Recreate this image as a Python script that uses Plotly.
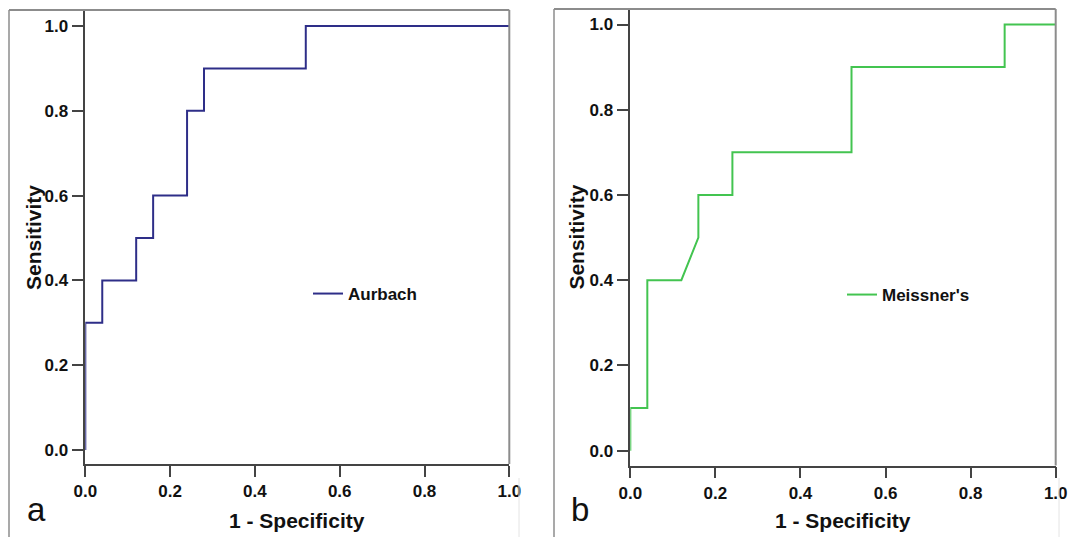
import plotly.graph_objects as go

# ROC coordinates
aurbach_fpr = [0.0, 0.0, 0.04, 0.04, 0.12, 0.12, 0.16, 0.16, 0.24, 0.24, 0.28, 0.28, 0.52, 0.52, 1.0]
aurbach_tpr = [0.0, 0.3, 0.3, 0.4, 0.4, 0.5, 0.5, 0.6, 0.6, 0.8, 0.8, 0.9, 0.9, 1.0, 1.0]

meissner_fpr = [0.0, 0.0, 0.04, 0.04, 0.12, 0.16, 0.16, 0.24, 0.24, 0.52, 0.52, 0.88, 0.88, 1.0]
meissner_tpr = [0.0, 0.1, 0.1, 0.4, 0.4, 0.5, 0.6, 0.6, 0.7, 0.7, 0.9, 0.9, 1.0, 1.0]

tick_vals = [0.0, 0.2, 0.4, 0.6, 0.8, 1.0]
tick_text = ["0.0", "0.2", "0.4", "0.6", "0.8", "1.0"]

W, H = 1070, 537
FONT = "Liberation Sans, Arial, Helvetica, sans-serif"
AX = "#444444"
FRAME = "#8c8c8c"


def px(x):
    return x / W


def py(y):
    return 1 - y / H


fig = go.Figure()
fig.add_trace(go.Scatter(x=aurbach_fpr, y=aurbach_tpr, mode="lines", name="Aurbach",
                         line=dict(color="#2e2e88", width=2), xaxis="x", yaxis="y",
                         legend="legend", showlegend=True))
fig.add_trace(go.Scatter(x=meissner_fpr, y=meissner_tpr, mode="lines", name="Meissner's",
                         line=dict(color="#43c450", width=2), xaxis="x2", yaxis="y2",
                         legend="legend2", showlegend=True))

tickfont = dict(family=FONT, size=17, color="#111111", weight="bold")

common_x = dict(range=[0, 1], tickvals=tick_vals, ticktext=tick_text, ticks="outside",
                ticklen=11, tickwidth=1.5, tickcolor=AX, showline=True, linecolor=AX,
                linewidth=1.5, showgrid=False, zeroline=False, tickfont=tickfont,
                fixedrange=True, automargin=False)
common_y = dict(tickvals=tick_vals, ticktext=tick_text, ticks="outside",
                ticklen=12, tickwidth=1.5, tickcolor=AX, showline=True, linecolor=AX,
                linewidth=1.5, showgrid=False, zeroline=False, tickfont=tickfont,
                fixedrange=True, automargin=False)

# left panel geometry (pixels)
L_x0, L_x1, L_top, L_bot = 85.3, 509.3, 10, 464
L_zero, L_one = 450, 26
# right panel geometry (pixels)
R_x0, R_x1, R_top, R_bot = 630.3, 1055.7, 9, 465.5
R_zero, R_one = 450.7, 24.5


def yrange(top, bot, zero, one):
    s = zero - one
    return [(zero - bot) / s, (zero - top) / s]


legfont = dict(family=FONT, size=17, color="#111111", weight="bold")
fig.update_layout(
    width=W, height=H, margin=dict(l=0, r=0, t=0, b=0, pad=0, autoexpand=False),
    paper_bgcolor="white", plot_bgcolor="white", showlegend=True,
    font=dict(family=FONT, color="#111111"),
    xaxis=dict(domain=[px(L_x0), px(L_x1)], anchor="y", **common_x),
    yaxis=dict(domain=[py(L_bot), py(L_top)], anchor="x",
               range=yrange(L_top, L_bot, L_zero, L_one), **common_y),
    xaxis2=dict(domain=[px(R_x0), px(R_x1)], anchor="y2", **common_x),
    yaxis2=dict(domain=[py(R_bot), py(R_top)], anchor="x2",
                range=yrange(R_top, R_bot, R_zero, R_one), **common_y),
    legend=dict(x=px(308), y=py(294), xanchor="left", yanchor="middle",
                bgcolor="rgba(0,0,0,0)", borderwidth=0, font=legfont),
    legend2=dict(x=px(842), y=py(295), xanchor="left", yanchor="middle",
                 bgcolor="rgba(0,0,0,0)", borderwidth=0, font=legfont),
)

shapes = []
# left panel frame
shapes.append(dict(type="line", xref="paper", yref="paper", x0=px(9), x1=px(L_x1), y0=py(L_top), y1=py(L_top),
                   line=dict(color=FRAME, width=2)))
shapes.append(dict(type="line", xref="paper", yref="paper", x0=px(9), x1=px(9), y0=py(L_top), y1=py(537),
                   line=dict(color=FRAME, width=1.5)))
shapes.append(dict(type="line", xref="paper", yref="paper", x0=px(L_x1), x1=px(L_x1), y0=py(L_top), y1=py(L_bot),
                   line=dict(color=FRAME, width=2)))
shapes.append(dict(type="line", xref="paper", yref="paper", x0=px(519), x1=px(519), y0=py(478), y1=py(537),
                   line=dict(color="#e4e4e4", width=1)))
# right panel frame
shapes.append(dict(type="line", xref="paper", yref="paper", x0=px(554), x1=px(R_x1), y0=py(R_top), y1=py(R_top),
                   line=dict(color=FRAME, width=2)))
shapes.append(dict(type="line", xref="paper", yref="paper", x0=px(554), x1=px(554), y0=py(R_top), y1=py(537),
                   line=dict(color=FRAME, width=1.5)))
shapes.append(dict(type="line", xref="paper", yref="paper", x0=px(R_x1), x1=px(R_x1), y0=py(R_top), y1=py(R_bot),
                   line=dict(color=FRAME, width=2)))
shapes.append(dict(type="line", xref="paper", yref="paper", x0=px(1059), x1=px(1059), y0=py(478), y1=py(537),
                   line=dict(color="#e4e4e4", width=1)))
fig.update_layout(shapes=shapes)

titlefont = dict(family=FONT, size=21, color="#111111", weight="bold")
ann = []
ann.append(dict(text="Sensitivity", x=px(33), y=py((L_zero + L_one) / 2), xref="paper", yref="paper",
                textangle=-90, showarrow=False, font=titlefont, xanchor="center", yanchor="middle"))
ann.append(dict(text="1 - Specificity", x=px((L_x0 + L_x1) / 2), y=py(520), xref="paper", yref="paper",
                showarrow=False, font=titlefont, xanchor="center", yanchor="middle"))
ann.append(dict(text="Sensitivity", x=px(577), y=py((R_zero + R_one) / 2), xref="paper", yref="paper",
                textangle=-90, showarrow=False, font=titlefont, xanchor="center", yanchor="middle"))
ann.append(dict(text="1 - Specificity", x=px((R_x0 + R_x1) / 2), y=py(520), xref="paper", yref="paper",
                showarrow=False, font=titlefont, xanchor="center", yanchor="middle"))
panelfont = dict(family=FONT, size=33, color="#111111")
ann.append(dict(text="a", x=px(36), y=py(509), xref="paper", yref="paper", showarrow=False,
                font=panelfont, xanchor="center", yanchor="middle"))
ann.append(dict(text="b", x=px(580), y=py(509), xref="paper", yref="paper", showarrow=False,
                font=panelfont, xanchor="center", yanchor="middle"))
fig.update_layout(annotations=ann)

fig.write_html("out.html", config=dict(displayModeBar=False),
               post_script="document.body.style.margin='0';document.body.style.overflow='hidden';")
